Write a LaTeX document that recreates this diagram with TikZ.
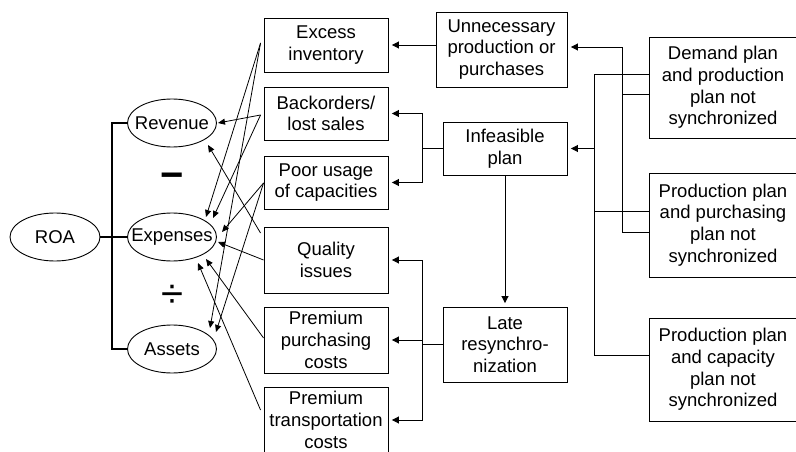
\documentclass[tikz,border=0pt]{standalone}
\usepackage{fontspec}
\setmainfont{Liberation Sans}
\usetikzlibrary{shapes.geometric, arrows.meta, calc}

\newcommand{\diagfont}{\fontsize{18.5}{21.7}\selectfont}
\newcommand{\signfont}{\fontsize{40}{40}\selectfont}

\tikzset{
  box/.style={draw, line width=0.9pt, align=center, inner sep=0pt, minimum width=124pt, font=\diagfont},
  oval/.style={draw, line width=0.9pt, ellipse, inner sep=0pt, minimum width=89pt, minimum height=48pt, font=\diagfont},
  link/.style={line width=0.9pt, -{Triangle[length=7pt,width=7pt]}, shorten >=3.5pt},
  cause/.style={line width=0.8pt, -{Triangle[length=7pt,width=6pt]}},
  bracket/.style={line width=2.6pt}
}

\begin{document}
\begin{tikzpicture}[x=1pt, y=-1pt]
  \useasboundingbox (0,0) rectangle (796,452);

  % Indicadores a la izquierda
  \node[oval, minimum width=90pt] (roa) at (55,237) {\makebox[0pt]{ROA}};
  \node[oval] (rev) at (172,123) {\makebox[0pt]{Revenue}};
  \node[oval] (exp) at (172,237) {\makebox[0pt]{Expenses}};
  \node[oval] (ast) at (172,349) {\makebox[0pt]{Assets}};
  \node (minus) at (172,181) {\signfont\bfseries −};
  \node (div) at (172,296) {\signfont ÷};

  % Llave
  \draw[bracket] (rev.west) -- ++(-15,0) |- (ast.west);
  \draw[bracket] (roa) -- (exp);

  % Efectos
  \node[box, minimum height=54pt] (exc) at (326,45) {Excess\\inventory};
  \node[box, minimum height=53pt] (back) at (326,113.5) {Backorders/\\lost sales};
  \node[box, minimum height=53pt] (poor) at (326,182.5) {Poor usage\\of capacities};
  \node[box, minimum height=66pt] (qual) at (326,260) {Quality\\issues};
  \node[box, minimum height=66pt] (purch) at (326,340) {Premium\\purchasing\\costs};
  \node[box, minimum height=66pt] (transp) at (326,420) {Premium\\transportation\\costs};

  % Causas intermedias
  \node[box, minimum width=131pt, minimum height=75pt] (unn) at (501.5,49.5) {Unnecessary\\production or\\purchases};
  \node[box, minimum height=53pt] (inf) at (505,148.5) {Infeasible\\plan};
  \node[box, minimum height=75pt] (late) at (505,344.5) {Late\\resynchro-\\nization};

  % Causas de fondo
  \node[box, minimum width=148pt, minimum height=101pt] (dem) at (723,87.5) {Demand plan\\and production\\plan not\\synchronized};
  \node[box, minimum width=148pt, minimum height=104pt] (ppur) at (723,225) {Production plan\\and purchasing\\plan not\\synchronized};
  \node[box, minimum width=148pt, minimum height=103pt] (pcap) at (723,369.5) {Production plan\\and capacity\\plan not\\synchronized};

  % Conexiones a la derecha
  \draw[link] ([yshift=-6.5pt]dem.west) -| ([xshift=55pt,yshift=2.5pt]unn.east) -- ([yshift=2.5pt]unn.east);
  \draw[line width=0.9pt] ([yshift=-7pt]ppur.west) -| ([xshift=55pt,yshift=2.5pt]unn.east);
  \draw[link] ([yshift=13.5pt]dem.west) -| ([xshift=27pt]inf.east) -- (inf.east);
  \draw[line width=0.9pt] ([yshift=14pt]ppur.west) -| ([xshift=27pt]inf.east);
  \draw[line width=0.9pt] ([yshift=14.5pt]pcap.west) -| ([xshift=27pt]inf.east);

  % Conexiones centrales
  \draw[link] (unn.west |- exc.east) -- (exc.east);
  \draw[link] (inf.west) -- ++(-20,0) |- (back.east);
  \draw[link] (inf.west) -- ++(-20,0) |- (poor.east);
  \draw[link] (inf) -- (late);
  \draw[link] (late.west) -- ++(-20,0) |- (qual.east);
  \draw[link] (late.west) -- ++(-20,0) |- (purch.east);
  \draw[link] (late.west) -- ++(-20,0) |- (transp.east);

  % Flechas hacia los indicadores
  \draw[cause] ($(exc.west)+(-3,-2)$) -- ($(exp)+(34,-20)$);
  \draw[cause] ($(exc.west)+(-3,-2)$) -- ($(ast)+(38,-21)$);
  \draw[cause] ($(back.west)+(-3,1.5)$) -- ($(rev)+(46,0)$);
  \draw[cause] ($(back.west)+(-3,1.5)$) -- ($(exp)+(41,-19)$);
  \draw[cause] ($(poor.west)+(0,0.5)$) -- ($(exp)+(50,-5)$);
  \draw[cause] ($(poor.west)+(0,0.5)$) -- ($(ast)+(44,-17)$);
  \draw[cause] ($(qual.west)+(-3,-27)$) -- ($(rev)+(36,22)$);
  \draw[cause] (qual.west) -- ($(exp)+(46,5)$);
  \draw[cause] ($(purch.west)+(0,-2)$) -- ($(exp)+(34,22)$);
  \draw[cause] ($(transp.west)+(-3,-10)$) -- ($(exp)+(26,26)$);
\end{tikzpicture}
\end{document}
